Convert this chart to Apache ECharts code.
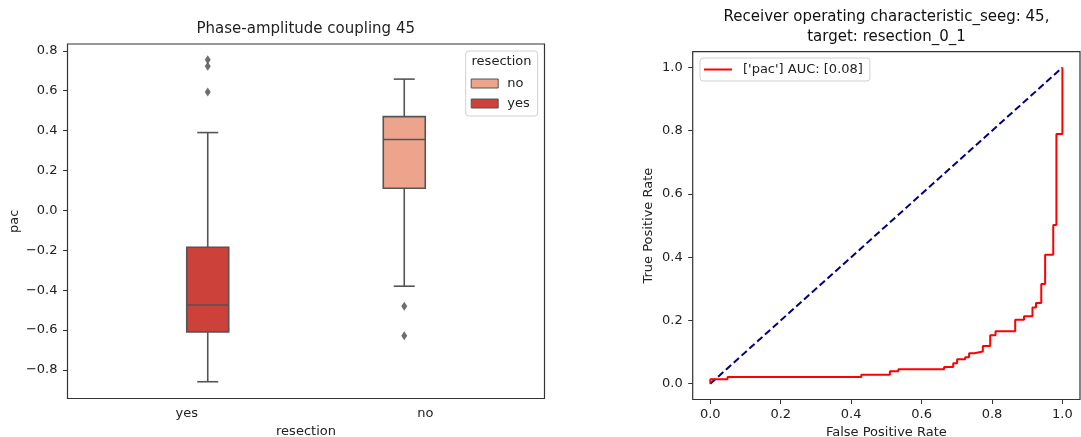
<!DOCTYPE html>
<html><head><meta charset="utf-8">
<script src="https://cdn.jsdelivr.net/npm/echarts@6/dist/echarts.min.js"></script>
<style>html,body{margin:0;padding:0;background:#fff}#c{width:1081px;height:437px}</style>
</head><body><div id="c"></div>
<script>
// ---------- data ----------
const categories = ['yes', 'no'];
const hueOrder = ['no', 'yes'];
// [categoryIndex, lowerWhisker, q1, median, q3, upperWhisker]
const boxNo = [[1, -0.380, 0.111, 0.355, 0.470, 0.658]];
const boxYes = [[0, -0.859, -0.609, -0.474, -0.185, 0.390]];
const outliersNo = [[1, -0.480], [1, -0.629]];
const outliersYes = [[0, 0.755], [0, 0.722], [0, 0.593]];
const leftYTicks = [-0.8, -0.6, -0.4, -0.2, 0.0, 0.2, 0.4, 0.6, 0.8];

const rocFpr = [0, 0, 0.049, 0.049, 0.429, 0.429, 0.510, 0.510, 0.534, 0.534, 0.664, 0.664, 0.690, 0.690, 0.701, 0.701, 0.724, 0.724, 0.735, 0.735, 0.750, 0.750, 0.774, 0.774, 0.795, 0.795, 0.810, 0.810, 0.866, 0.866, 0.891, 0.891, 0.915, 0.915, 0.925, 0.925, 0.940, 0.940, 0.951, 0.951, 0.974, 0.974, 0.983, 0.983, 1.0, 1.0];
const rocTpr = [0, 0.014, 0.014, 0.021, 0.021, 0.028, 0.028, 0.039, 0.039, 0.046, 0.046, 0.053, 0.053, 0.065, 0.065, 0.077, 0.077, 0.084, 0.084, 0.096, 0.096, 0.102, 0.102, 0.119, 0.119, 0.153, 0.153, 0.166, 0.166, 0.202, 0.202, 0.213, 0.213, 0.241, 0.241, 0.255, 0.255, 0.315, 0.315, 0.408, 0.408, 0.502, 0.502, 0.790, 0.790, 1.0];
const chanceFpr = [0, 1];
const chanceTpr = [0, 1];
const rocTicks = [0, 0.2, 0.4, 0.6, 0.8, 1.0];
const rocLabel = "['pac'] AUC: [0.08]";

// ---------- style ----------
const FONT = 'DejaVu Sans';
const FRAME = '#333333';
const BOXLINE = '#555555';
const FILL = { no: '#eca48c', yes: '#cc4139' };
const fmtMinus = v => (v < 0 ? '\u2212' : '') + Math.abs(v).toFixed(1);

function boxRenderer(sign, fill) {
  return function (params, api) {
    const cat = api.value(0);
    const band = api.size([1, 0])[0];
    const w = band * 0.176;
    const cx = api.coord([cat, 0])[0] + sign * w / 2;
    const yLo = api.coord([cat, api.value(1)])[1];
    const yQ1 = api.coord([cat, api.value(2)])[1];
    const yMed = api.coord([cat, api.value(3)])[1];
    const yQ3 = api.coord([cat, api.value(4)])[1];
    const yHi = api.coord([cat, api.value(5)])[1];
    const ls = { stroke: BOXLINE, lineWidth: 1.6 };
    const cap = w / 4;
    return {
      type: 'group',
      children: [
        { type: 'line', shape: { x1: cx, y1: yHi, x2: cx, y2: yQ3 }, style: ls },
        { type: 'line', shape: { x1: cx, y1: yQ1, x2: cx, y2: yLo }, style: ls },
        { type: 'line', shape: { x1: cx - cap, y1: yHi, x2: cx + cap, y2: yHi }, style: ls },
        { type: 'line', shape: { x1: cx - cap, y1: yLo, x2: cx + cap, y2: yLo }, style: ls },
        { type: 'rect', shape: { x: cx - w / 2, y: yQ3, width: w, height: yQ1 - yQ3 },
          style: { fill: fill, stroke: BOXLINE, lineWidth: 1.6 } },
        { type: 'line', shape: { x1: cx - w / 2, y1: yMed, x2: cx + w / 2, y2: yMed }, style: ls }
      ]
    };
  };
}

const axisText = { color: '#222', fontFamily: FONT, fontSize: 13 };
const nameText = { color: '#222', fontFamily: FONT, fontSize: 13 };

const chart = echarts.init(document.getElementById('c'), null, { renderer: 'canvas' });
chart.setOption({
  animation: false,
  backgroundColor: '#fff',
  textStyle: { fontFamily: FONT },
  grid: [
    { left: 67.5, top: 44, width: 477, height: 354.5, show: true, borderColor: FRAME, borderWidth: 1.2,
      backgroundColor: 'transparent', containLabel: false, outerBoundsMode: 'none' },
    { left: 692.7, top: 51.7, width: 387.3, height: 347.8, show: true, borderColor: FRAME, borderWidth: 1.2,
      backgroundColor: 'transparent', containLabel: false, outerBoundsMode: 'none' }
  ],
  xAxis: [
    { gridIndex: 0, type: 'category', data: categories, boundaryGap: true,
      axisLine: { show: false, onZero: false }, axisTick: { alignWithLabel: true, length: 4.5, lineStyle: { color: FRAME } },
      axisLabel: { margin: 9, ...axisText },
      name: 'resection', nameLocation: 'middle', nameGap: 27, nameTextStyle: nameText, splitLine: { show: false } },
    { gridIndex: 1, type: 'value', min: -0.05, max: 1.05,
      axisLine: { show: false, onZero: false },
      axisTick: { length: 4.5, lineStyle: { color: FRAME }, customValues: rocTicks },
      axisLabel: { margin: 9, ...axisText, customValues: rocTicks, formatter: v => v.toFixed(1) },
      name: 'False Positive Rate', nameLocation: 'middle', nameGap: 27, nameTextStyle: nameText, splitLine: { show: false } }
  ],
  yAxis: [
    { gridIndex: 0, type: 'value', min: -0.943, max: 0.834,
      axisLine: { show: false, onZero: false },
      axisTick: { show: true, length: 4.5, lineStyle: { color: FRAME }, customValues: leftYTicks },
      axisLabel: { margin: 10, ...axisText, customValues: leftYTicks, formatter: fmtMinus },
      name: 'pac', nameLocation: 'middle', nameGap: 46, nameTextStyle: nameText, splitLine: { show: false } },
    { gridIndex: 1, type: 'value', min: -0.05, max: 1.05,
      axisLine: { show: false, onZero: false },
      axisTick: { show: true, length: 4.5, lineStyle: { color: FRAME }, customValues: rocTicks },
      axisLabel: { margin: 10, ...axisText, customValues: rocTicks, formatter: v => v.toFixed(1) },
      name: 'True Positive Rate', nameLocation: 'middle', nameGap: 38, nameTextStyle: nameText, splitLine: { show: false } }
  ],
  legend: [
    { data: hueOrder, orient: 'vertical', left: 465.7, top: 51, z: 3,
      padding: [26, 8, 6, 5], itemGap: 7, itemWidth: 27, itemHeight: 9, icon: 'rect',
      itemStyle: { borderColor: BOXLINE, borderWidth: 1 },
      backgroundColor: 'rgba(255,255,255,0.85)', borderColor: '#d0d0d0', borderWidth: 1, borderRadius: 3,
      textStyle: { fontFamily: FONT, fontSize: 13, color: '#222', padding: [0, 0, 0, 4] } },
    { data: [rocLabel], left: 700, top: 58, z: 3, icon: 'rect',
      padding: [5, 7, 5, 4], itemWidth: 28, itemHeight: 2,
      backgroundColor: 'rgba(255,255,255,0.85)', borderColor: '#d0d0d0', borderWidth: 1, borderRadius: 3,
      textStyle: { fontFamily: FONT, fontSize: 13, color: '#222', padding: [0, 0, 0, 6] } }
  ],
  graphic: [
    { type: 'text', x: 305.75, y: 29, z: 10, style: { text: 'Phase-amplitude coupling 45', fill: '#222', font: '15px "DejaVu Sans"', textAlign: 'center', textVerticalAlign: 'middle' } },
    { type: 'text', x: 886.5, y: 17, z: 10, style: { text: 'Receiver operating characteristic_seeg: 45,', fill: '#111', font: '15px "DejaVu Sans"', textAlign: 'center', textVerticalAlign: 'middle' } },
    { type: 'text', x: 886.5, y: 37, z: 10, style: { text: 'target: resection_0_1', fill: '#111', font: '15px "DejaVu Sans"', textAlign: 'center', textVerticalAlign: 'middle' } },
    { type: 'text', x: 501.5, y: 62, z: 10, style: { text: 'resection', fill: '#222', font: '13px "DejaVu Sans"', textAlign: 'center', textVerticalAlign: 'middle' } }
  ],
  series: [
    { name: 'no', type: 'custom', xAxisIndex: 0, yAxisIndex: 0, data: boxNo,
      itemStyle: { color: FILL.no }, encode: { x: 0, y: [1, 2, 3, 4, 5] },
      renderItem: boxRenderer(-1, FILL.no), z: 2 },
    { name: 'yes', type: 'custom', xAxisIndex: 0, yAxisIndex: 0, data: boxYes,
      itemStyle: { color: FILL.yes }, encode: { x: 0, y: [1, 2, 3, 4, 5] },
      renderItem: boxRenderer(1, FILL.yes), z: 2 },
    { name: 'no-outliers', type: 'scatter', xAxisIndex: 0, yAxisIndex: 0, data: outliersNo,
      symbol: 'diamond', symbolSize: [6, 9], symbolOffset: [-21, 0], itemStyle: { color: '#4a4a4a' } },
    { name: 'yes-outliers', type: 'scatter', xAxisIndex: 0, yAxisIndex: 0, data: outliersYes,
      symbol: 'diamond', symbolSize: [6, 9], symbolOffset: [21, 0], itemStyle: { color: '#4a4a4a' } },
    { name: 'chance', type: 'line', xAxisIndex: 1, yAxisIndex: 1,
      data: chanceFpr.map((x, i) => [x, chanceTpr[i]]), symbol: 'none',
      lineStyle: { color: '#000080', width: 2, type: [7, 3.5] }, z: 2 },
    { name: rocLabel, type: 'line', xAxisIndex: 1, yAxisIndex: 1,
      data: rocFpr.map((x, i) => [x, rocTpr[i]]), symbol: 'none', color: '#ff0000',
      lineStyle: { color: '#ff0000', width: 2 }, z: 3 }
  ]
});
</script></body></html>
